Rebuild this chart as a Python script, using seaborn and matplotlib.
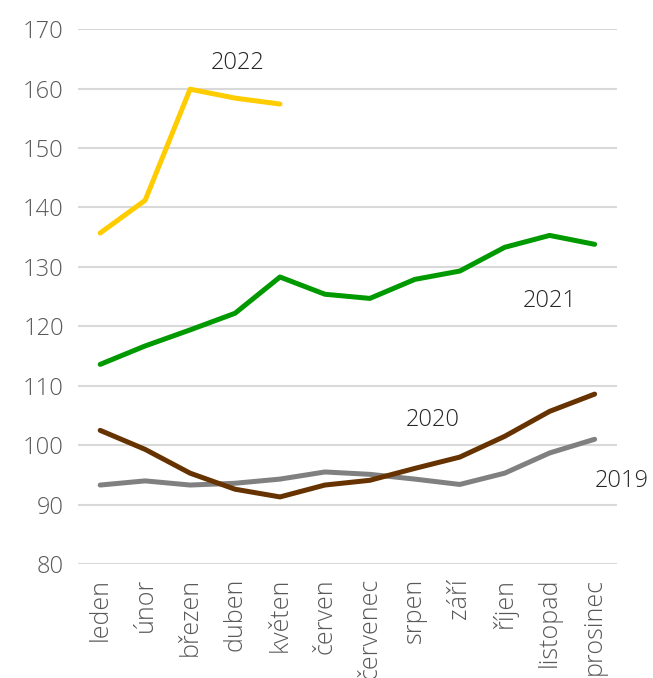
import pandas as pd
import seaborn as sns
import matplotlib.pyplot as plt

# Months (Czech)
mesice = ['leden', 'únor', 'březen', 'duben', 'květen', 'červen',
          'červenec', 'srpen', 'září', 'říjen', 'listopad', 'prosinec']

y2019 = [93.3, 94.0, 93.3, 93.6, 94.3, 95.5, 95.1, 94.3, 93.4, 95.3, 98.7, 101.0]
y2020 = [102.5, 99.3, 95.3, 92.6, 91.3, 93.3, 94.1, 96.1, 98.0, 101.5, 105.7, 108.6]
y2021 = [113.6, 116.7, 119.4, 122.2, 128.3, 125.4, 124.7, 127.9, 129.3, 133.3, 135.3, 133.8]
y2022 = [135.7, 141.2, 159.9, 158.4, 157.4]

rows = []
for rok, vals in [('2019', y2019), ('2020', y2020), ('2021', y2021), ('2022', y2022)]:
    for m, v in zip(mesice, vals):
        rows.append({'mesic': m, 'hodnota': v, 'rok': rok})
df = pd.DataFrame(rows)
df['mesic'] = pd.Categorical(df['mesic'], categories=mesice, ordered=True)
df['pos'] = df['mesic'].cat.codes

barvy = {'2019': '#808080', '2020': '#663300', '2021': '#009900', '2022': '#FFCC00'}

sns.set_style('white')
plt.rcParams['font.family'] = ['Open Sans', 'DejaVu Sans']

fig = plt.figure(figsize=(6.53, 6.78), dpi=100)
ax = fig.add_axes([0.119, 0.168, 0.826, 0.789])

sns.lineplot(data=df, x='pos', y='hodnota', hue='rok', palette=barvy,
             linewidth=3.6, legend=False, ax=ax, sort=False)

ax.set_xlim(-0.5, 11.5)
ax.set_ylim(80, 170)
ax.set_yticks(range(80, 171, 10))
ax.set_xticks(range(len(mesice)))
ax.set_xticklabels(mesice, rotation=90, fontsize=18, color='#595959', fontweight='light')
for t in ax.get_yticklabels():
    t.set_fontsize(17)
    t.set_color('#595959')
    t.set_fontweight('light')
ax.yaxis.grid(True, color='#d9d9d9', linewidth=1.5)
ax.set_axisbelow(True)
ax.tick_params(axis='both', length=0, pad=10)
ax.set_xlabel('')
ax.set_ylabel('')
for s in ax.spines.values():
    s.set_visible(False)

# Series labels
popisky = [('2022', 3.06, 164.3), ('2021', 10.0, 124.2), ('2020', 7.4, 104.2), ('2019', 11.6, 94.0)]
for txt, x, y in popisky:
    ax.text(x, y, txt, ha='center', va='center', fontsize=17, color='#262626',
            fontweight='light', clip_on=False)

fig.savefig('out.png', dpi=100)
plt.close()
